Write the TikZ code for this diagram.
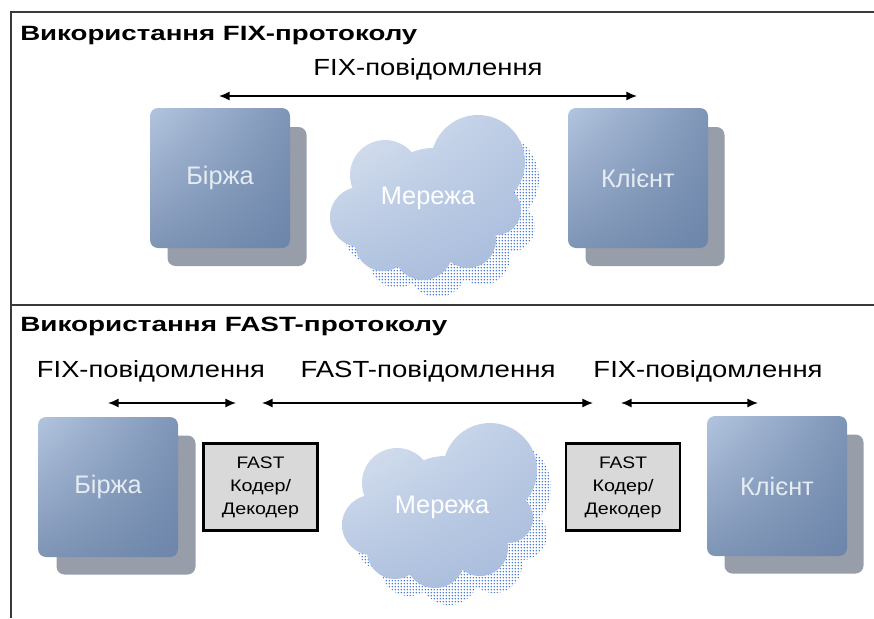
\documentclass[tikz,border=0pt]{standalone}
\usepackage{fontspec}
\setmainfont{Liberation Sans}
\usetikzlibrary{arrows.meta,patterns.meta,shadings}
\newdimen\pxu \pxu=0.75pt
\newcommand\fitw[2]{\resizebox{#1\pxu}{\height}{#2}}
\definecolor{frameC}{HTML}{3A3A3A}
\definecolor{boxUL}{HTML}{B2C4DE}
\definecolor{boxUR}{HTML}{7E95B7}
\definecolor{boxLL}{HTML}{7F95B6}
\definecolor{boxLR}{HTML}{6C85A9}
\definecolor{shadowC}{HTML}{979DA9}
\definecolor{boxText}{HTML}{E6ECF4}
\definecolor{cloudUL}{HTML}{DDE6F2}
\definecolor{cloudLR}{HTML}{A6BADB}
\definecolor{dotC}{HTML}{3A6ECD}
\definecolor{coderFill}{HTML}{D9D9D9}
\tikzdeclarepattern{
  name=cdots,
  type=uncolored,
  bottom left={(0pt,0pt)},
  top right={(2.4pt,2.4pt)},
  tile size={(2.4pt,2.4pt)},
  code={\fill (1.2pt,1.2pt) circle (0.72pt);}
}
\begin{document}
\begin{tikzpicture}[x=0.75pt,y=-0.75pt,
  frameline/.style={draw=frameC,line width=1.5pt},
  shadowbox/.style={fill=shadowC,rounded corners=6pt,minimum width=139\pxu,minimum height=139\pxu,inner sep=0pt},
  frontbox/.style={rounded corners=6pt,minimum width=140\pxu,minimum height=140\pxu,inner sep=0pt,
    shade,upper left=boxUL,upper right=boxUR,lower left=boxLL,lower right=boxLR,
    text=boxText,font=\fontsize{19pt}{22pt}\selectfont},
  coder/.style={draw=black,line width=1.6pt,fill=coderFill,minimum width=114\pxu,minimum height=87\pxu,
    inner sep=0pt,align=center,font=\fontsize{12.5pt}{17.25pt}\selectfont},
  title/.style={anchor=base west,inner sep=0pt,font=\bfseries\fontsize{15.5pt}{18pt}\selectfont},
  lbl/.style={anchor=base,inner sep=0pt,font=\fontsize{17.5pt}{20pt}\selectfont},
  nettext/.style={text=white,font=\fontsize{19pt}{22pt}\selectfont,inner sep=0pt},
  arr/.style={black,line width=1.3pt,{Latex[length=8pt,width=7pt]}-{Latex[length=8pt,width=7pt]}},
  cloudp/.style 2 args={insert path={
    (#1+50,#2-36) circle[radius=47]
    (#1-43,#2-23) circle[radius=35]
    (#1-68,#2+19) circle[radius=30]
    (#1-45,#2+45) circle[radius=28]
    (#1-5,#2+52) circle[radius=30]
    (#1+40,#2+42) circle[radius=28]
    (#1+68,#2+12) circle[radius=25]
    (#1+5,#2+5) circle[radius=55]}},
  cloudshadow/.style={pattern=cdots,pattern color=dotC},
  cloudshade/.style={upper left=cloudUL,upper right=cloudLR!60!cloudUL,lower left=cloudLR!80!cloudUL,lower right=cloudLR}
]
\useasboundingbox (0,0) rectangle (874,618);

% frame
\draw[frameline] (11,618) -- (11,12) -- (874,12);
\draw[frameline] (11,305) -- (874,305);

% ---------- FIX section ----------
\node[title] (t1) at (20,40) {\fitw{397}{Використання FIX-протоколу}};
\node[lbl] (l1) at (428,75) {\fitw{229}{FIX-повідомлення}};
\coordinate (a1l) at (219,96);
\coordinate (a1r) at (637,96);
\draw[arr] (a1l) -- (a1r);

\node[shadowbox] (b1s) at (237,196.5) {};
\node[frontbox] (b1) at (220,178) {Біржа};

\fill[cloudshadow,cloudp={442}{215}];
\shade[cloudshade,cloudp={428}{198}];
\node[nettext] (n1) at (428,198) {Мережа};

\node[shadowbox] (c1s) at (655,196.5) {};
\node[frontbox] (c1) at (638,178) {Клієнт};

% ---------- FAST section ----------
\node[title] (t2) at (20,331) {\fitw{427}{Використання FAST-протоколу}};
\node[lbl] (l2) at (151,377) {\fitw{228}{FIX-повідомлення}};
\node[lbl] (l3) at (428,377) {\fitw{255}{FAST-повідомлення}};
\node[lbl] (l4) at (708,377) {\fitw{229}{FIX-повідомлення}};
\coordinate (a2l) at (108,403);
\coordinate (a2r) at (236,403);
\coordinate (a3l) at (262,403);
\coordinate (a3r) at (593,403);
\coordinate (a4l) at (621,403);
\coordinate (a4r) at (758,403);
\draw[arr] (a2l) -- (a2r);
\draw[arr] (a3l) -- (a3r);
\draw[arr] (a4l) -- (a4r);

\node[shadowbox] (b2s) at (126,505) {};
\node[frontbox] (b2) at (108,487) {Біржа};

\node[coder] (e1) at (260.5,487) {\fitw{48}{FAST}\\\fitw{61}{Кодер/}\\\fitw{77}{Декодер}};

\fill[cloudshadow,cloudp={454}{523}];
\shade[cloudshade,cloudp={440}{506}];
\node[nettext] (n2) at (442,507) {Мережа};

\node[coder] (e2) at (623,487) {\fitw{48}{FAST}\\\fitw{61}{Кодер/}\\\fitw{77}{Декодер}};

\node[shadowbox] (c2s) at (794,504) {};
\node[frontbox] (c2) at (777,486) {Клієнт};
\end{tikzpicture}
\end{document}
